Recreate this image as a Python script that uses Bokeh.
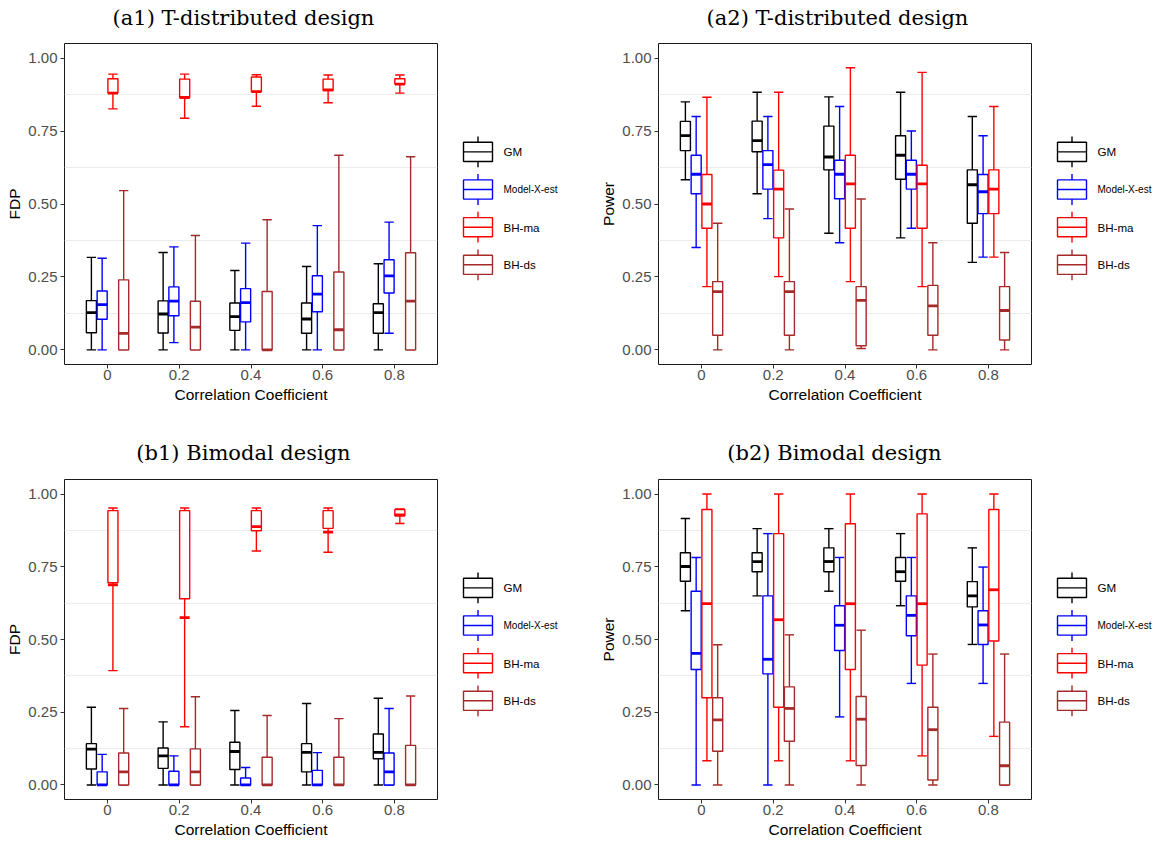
from bokeh.plotting import figure
from bokeh.models import Range1d, FixedTicker, ColumnDataSource, PrintfTickFormatter
from bokeh.transform import dodge
from bokeh.layouts import row, column
from bokeh.core.properties import value
from bokeh.embed import file_html
from bokeh.resources import INLINE

CATEGORIES = ["0", "0.2", "0.4", "0.6", "0.8"]
METHODS = ["GM", "Model-X-est", "BH-ma", "BH-ds"]
COLORS = ["#000000", "#0000FF", "#FF0000", "#A52A2A"]

# (lower whisker, Q1, median, Q3, upper whisker) per correlation coefficient
# (a1) FDP, T-distributed design
A1_GM = [(0, .059, .128, .169, .317), (0, .058, .123, .168, .334), (0, .067, .114, .161, .272),
         (0, .057, .106, .161, .286), (0, .057, .128, .158, .295)]
A1_MX = [(0, .105, .155, .202, .314), (.025, .117, .167, .216, .353), (0, .096, .162, .210, .366),
         (0, .131, .191, .254, .426), (.057, .195, .254, .309, .438)]
A1_MA = [(.826, .880, .880, .929, .945), (.794, .865, .865, .928, .945), (.835, .885, .885, .935, .943),
         (.847, .889, .891, .928, .942), (.880, .911, .911, .929, .942)]
A1_DS = [(0, 0, .057, .240, .546), (0, 0, .078, .167, .392), (0, 0, 0, .200, .446),
         (0, 0, .069, .267, .667), (0, 0, .167, .333, .662)]

# (a2) Power, T-distributed design
A2_GM = [(.583, .683, .734, .783, .850), (.535, .679, .717, .784, .883), (.400, .617, .661, .767, .867),
         (.384, .585, .667, .734, .883), (.300, .434, .566, .617, .800)]
A2_MX = [(.351, .535, .602, .667, .800), (.450, .551, .635, .683, .800), (.367, .518, .602, .650, .834),
         (.417, .551, .602, .650, .750), (.318, .467, .542, .601, .734)]
A2_MA = [(.217, .417, .500, .601, .866), (.251, .384, .551, .616, .883), (.234, .417, .569, .667, .967),
         (.217, .417, .569, .633, .951), (.318, .467, .551, .617, .834)]
A2_DS = [(0, .050, .200, .234, .434), (0, .050, .200, .234, .483), (.005, .014, .170, .217, .517),
         (0, .050, .151, .221, .367), (0, .034, .135, .217, .334)]

# (b1) FDP, Bimodal design
B1_GM = [(0, .055, .123, .142, .267), (0, .057, .100, .127, .217), (0, .053, .115, .147, .256),
         (0, .045, .112, .142, .280), (0, .090, .112, .175, .298)]
B1_MX = [(0, 0, 0, .045, .105), (0, 0, 0, .047, .100), (0, 0, 0, .024, .060),
         (0, 0, 0, .050, .111), (0, 0, .045, .110, .263)]
B1_MA = [(.393, .695, .688, .943, .952), (.200, .640, .575, .943, .952), (.804, .874, .888, .943, .952),
         (.800, .882, .869, .943, .952), (.899, .925, .928, .947, .949)]
B1_DS = [(0, 0, .045, .110, .263), (0, 0, .045, .124, .303), (0, 0, 0, .095, .239),
         (0, 0, 0, .095, .228), (0, 0, 0, .136, .306)]

# (b2) Power, Bimodal design
B2_GM = [(.599, .700, .751, .798, .916), (.650, .733, .768, .798, .881), (.666, .733, .768, .815, .881),
         (.616, .700, .733, .782, .864), (.483, .612, .650, .699, .815)]
B2_MX = [(0, .397, .452, .666, .782), (0, .382, .432, .650, .864), (.234, .462, .549, .616, .782),
         (.349, .513, .583, .650, .782), (.349, .483, .550, .599, .749)]
B2_MA = [(.083, .300, .623, .947, 1.0), (.083, .267, .568, .864, 1.0), (.083, .397, .623, .898, 1.0),
         (.100, .412, .623, .932, 1.0), (.167, .495, .671, .947, 1.0)]
B2_DS = [(0, .116, .224, .300, .482), (0, .150, .263, .337, .516), (0, .067, .226, .304, .532),
         (0, .017, .190, .267, .450), (0, 0, .066, .216, .450)]

TITLES_TOP = ["(a1) T-distributed design", "(a2) T-distributed design"]
TITLES_BOTTOM = ["(b1) Bimodal design", "(b2) Bimodal design"]
Y_LABELS = ["FDP", "Power", "FDP", "Power"]
X_LABEL = "Correlation Coefficient"
Y_TICKS = [0, 0.25, 0.5, 0.75, 1.0]
Y_MINOR = [0.125, 0.375, 0.625, 0.875]

OFFSETS = [-0.225, -0.075, 0.075, 0.225]
BOX_W = 0.14
CAP_W = 0.13
SANS = "Liberation Sans"
TOTAL_W = 1153


def make_panel(stats, ylabel, width, height, bl, br, bt, bb):
    p = figure(width=width, height=height, x_range=Range1d(-0.6, 4.6), y_range=Range1d(-0.05, 1.05),
               output_backend="svg", toolbar_location=None,
               min_border_left=bl, min_border_right=br, min_border_top=bt, min_border_bottom=bb,
               background_fill_color="white", border_fill_color="white")
    p.outline_line_color = "#1a1a1a"
    p.outline_line_width = 1
    p.xgrid.grid_line_color = None
    p.ygrid.grid_line_color = None
    p.ygrid.ticker = FixedTicker(ticks=Y_TICKS, minor_ticks=Y_MINOR)
    p.ygrid.minor_grid_line_color = "#EBEBEB"
    p.ygrid.minor_grid_line_width = 1

    p.xaxis.ticker = FixedTicker(ticks=list(range(len(CATEGORIES))), minor_ticks=[])
    p.xaxis.major_label_overrides = {i: c for i, c in enumerate(CATEGORIES)}
    p.yaxis.ticker = FixedTicker(ticks=Y_TICKS, minor_ticks=[])
    p.yaxis.formatter = PrintfTickFormatter(format="%.2f")
    for ax in (p.xaxis[0], p.yaxis[0]):
        ax.axis_line_color = None
        ax.major_tick_line_color = "#333333"
        ax.major_tick_line_width = 1
        ax.major_tick_out = 4
        ax.major_tick_in = 0
        ax.minor_tick_line_color = None
        ax.major_label_text_font = SANS
        ax.major_label_text_font_size = "15px"
        ax.major_label_text_color = "#4D4D4D"
        ax.axis_label_text_font = SANS
        ax.axis_label_text_font_size = "15.5px"
        ax.axis_label_text_font_style = "normal"
        ax.axis_label_text_color = "black"
    p.xaxis.major_label_standoff = 1
    p.xaxis.axis_label_standoff = 3
    p.yaxis.major_label_standoff = 3
    p.yaxis.axis_label_standoff = 2
    p.xaxis.axis_label = X_LABEL
    p.yaxis.axis_label = ylabel

    sources = []
    for data in stats:
        sources.append(ColumnDataSource(dict(
            xi=list(range(len(CATEGORIES))),
            low=[d[0] for d in data], q1=[d[1] for d in data], med=[d[2] for d in data],
            q3=[d[3] for d in data], high=[d[4] for d in data])))

    # error bars first
    for src, col, off in zip(sources, COLORS, OFFSETS):
        p.segment(x0=dodge("xi", off), x1=dodge("xi", off), y0="low", y1="high",
                  source=src, line_color=col, line_width=1.4)
        p.segment(x0=dodge("xi", off - CAP_W / 2), x1=dodge("xi", off + CAP_W / 2), y0="low", y1="low",
                  source=src, line_color=col, line_width=1.4)
        p.segment(x0=dodge("xi", off - CAP_W / 2), x1=dodge("xi", off + CAP_W / 2), y0="high", y1="high",
                  source=src, line_color=col, line_width=1.4)
    # boxes on top
    for src, col, off in zip(sources, COLORS, OFFSETS):
        p.vbar(x=dodge("xi", off), width=BOX_W, bottom="q1", top="q3", source=src,
               fill_color="white", line_color=col, line_width=1.4)
        p.segment(x0=dodge("xi", off - BOX_W / 2), x1=dodge("xi", off + BOX_W / 2), y0="med", y1="med",
                  source=src, line_color=col, line_width=2.8)
    return p


def make_legend(width, height, bt, bb, centers):
    # the legend's frame is aligned with the neighbouring panel's frame; y runs in page pixels
    top_px = sum_top = 0
    p = figure(width=width, height=height, x_range=Range1d(0, width), y_range=Range1d(1, 0),
               x_axis_type=None, y_axis_type=None, min_border_left=0, min_border_right=0,
               min_border_top=bt, min_border_bottom=bb, toolbar_location=None,
               output_backend="svg", background_fill_color="white", border_fill_color="white")
    p.outline_line_color = None
    p.grid.visible = False
    frame_h = height - bt - bb
    left, right = 18, 47
    mid = (left + right) / 2
    for name, col, yc in zip(METHODS, COLORS, centers):
        y = lambda px: px / frame_h
        p.segment(x0=[mid], x1=[mid], y0=[y(yc - 15.4)], y1=[y(yc + 15.4)], line_color=col, line_width=1.4)
        p.quad(left=[left], right=[right], top=[y(yc - 9.6)], bottom=[y(yc + 9.6)],
               fill_color="white", line_color=col, line_width=1.4)
        p.segment(x0=[left], x1=[right], y0=[y(yc)], y1=[y(yc)], line_color=col, line_width=1.4)
        size = "10px" if name == "Model-X-est" else "11.6px"
        p.text(x=[58], y=[y(yc)], text=[name], text_font=value(SANS), text_font_size=size,
               text_baseline="middle", text_align="left", text_color="black")
    return p


def make_title_bar(height, texts, xs, yc):
    p = figure(width=TOTAL_W, height=height, x_range=Range1d(0, TOTAL_W), y_range=Range1d(height, 0),
               x_axis_type=None, y_axis_type=None, min_border=0, toolbar_location=None,
               output_backend="svg", background_fill_color="white", border_fill_color="white")
    p.outline_line_color = None
    p.grid.visible = False
    p.text(x=xs, y=[yc] * len(texts), text=texts, text_font=value("DejaVu Serif"),
           text_font_size="21px", text_align="center", text_baseline="middle", text_color="black")
    return p


# row 1
t1 = make_title_bar(30, TITLES_TOP, [243, 837], 17.5)
a1 = make_panel([A1_GM, A1_MX, A1_MA, A1_DS], Y_LABELS[0], 445, 392, 64, 8, 13, 58)
a2 = make_panel([A2_GM, A2_MX, A2_MA, A2_DS], Y_LABELS[1], 443, 392, 62, 8, 13, 58)
# row 2
t2 = make_title_bar(43, TITLES_BOTTOM, [243, 834], 30.5)
b1 = make_panel([B1_GM, B1_MX, B1_MA, B1_DS], Y_LABELS[2], 445, 377, 64, 8, 14, 43)
b2 = make_panel([B2_GM, B2_MX, B2_MA, B2_DS], Y_LABELS[3], 443, 377, 62, 8, 14, 43)

# legend key centres, in pixels below the top of the panel frame
centers = [108.4, 146.0, 183.7, 221.3]
la1 = make_legend(151, 392, 13, 58, centers)
la2 = make_legend(114, 392, 13, 58, centers)
lb1 = make_legend(151, 377, 14, 43, centers)
lb2 = make_legend(114, 377, 14, 43, centers)

layout = column(t1, row(a1, la1, a2, la2), t2, row(b1, lb1, b2, lb2))
open("out.html", "w").write(file_html(layout, INLINE))
